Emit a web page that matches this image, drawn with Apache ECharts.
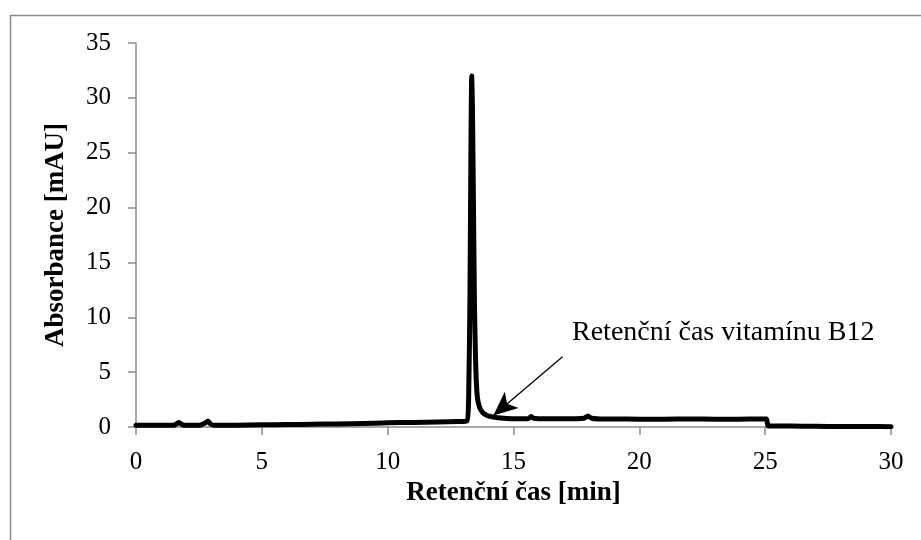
<!DOCTYPE html>
<html>
<head>
<meta charset="utf-8">
<script src="https://cdn.jsdelivr.net/npm/echarts@6/dist/echarts.min.js"></script>
<style>
  html, body { margin: 0; padding: 0; background: #fff; }
  #chart { width: 921px; height: 540px; }
</style>
</head>
<body>
<div id="chart"></div>
<script>
// retenční čas [min]
var times = [
  0, 0.8, 1.5, 1.62, 1.7, 1.78, 1.9, 2.5, 2.78, 2.86, 2.95, 3.1, 4, 5, 6, 7, 8, 9, 10,
  11, 12, 12.8, 13.15, 13.22, 13.27, 13.31, 13.34, 13.37, 13.41, 13.45, 13.5, 13.56,
  13.65, 13.78, 13.95, 14.2, 14.6, 15.2, 15.6, 15.7, 15.8, 16.3, 17, 17.8, 17.96,
  18.1, 18.6, 19.5, 20.5, 21.5, 22.5, 23.5, 24.4, 25.05, 25.12, 26, 27, 28, 29, 30
];
// absorbance [mAU]
var absorb = [
  0.15, 0.15, 0.15, 0.3, 0.4, 0.3, 0.15, 0.15, 0.4, 0.55, 0.3, 0.15, 0.17, 0.2, 0.22, 0.25, 0.28, 0.32, 0.38,
  0.42, 0.46, 0.5, 0.55, 3, 12, 26, 32, 29, 20, 11, 5.5, 2.8,
  1.8, 1.3, 1.05, 0.9, 0.8, 0.75, 0.78, 0.95, 0.8, 0.75, 0.75, 0.8, 1.0,
  0.8, 0.72, 0.72, 0.7, 0.72, 0.72, 0.7, 0.72, 0.72, 0.1, 0.08, 0.06, 0.05, 0.04, 0.03
];
var xTicks = [0, 5, 10, 15, 20, 25, 30];
var yTicks = [0, 5, 10, 15, 20, 25, 30, 35];
var noteText = 'Retenční čas vitamínu B12';
var arrowFrom = [16.95, 6.4];
var arrowTo = [14.2, 1.05];

var points = times.map(function (t, i) { return [t, absorb[i]]; });

var chart = echarts.init(document.getElementById('chart'));
var serif = '"Liberation Serif", "DejaVu Serif", serif';
var axisGray = '#8c8c8c';

var option = {
  animation: false,
  backgroundColor: '#fff',
  grid: { left: 136, right: 30, top: 43, bottom: 113, containLabel: false },
  xAxis: {
    type: 'value',
    min: xTicks[0],
    max: xTicks[xTicks.length - 1],
    interval: 5,
    name: 'Retenční čas [min]',
    nameLocation: 'middle',
    nameGap: 40,
    nameTextStyle: { fontFamily: serif, fontWeight: 'bold', fontSize: 27, color: '#000' },
    axisLine: { lineStyle: { color: axisGray, width: 1.5 } },
    axisTick: { show: true, length: 8, lineStyle: { color: axisGray, width: 1.5 } },
    axisLabel: { fontFamily: serif, fontSize: 25, color: '#000', margin: 23 },
    splitLine: { show: false }
  },
  yAxis: {
    type: 'value',
    min: yTicks[0],
    max: yTicks[yTicks.length - 1],
    interval: 5,
    name: 'Absorbance [mAU]',
    nameLocation: 'middle',
    nameGap: 66,
    nameTextStyle: { fontFamily: serif, fontWeight: 'bold', fontSize: 27, color: '#000' },
    axisLine: { show: true, lineStyle: { color: axisGray, width: 1.5 } },
    axisTick: { show: true, length: 8, lineStyle: { color: axisGray, width: 1.5 } },
    axisLabel: { fontFamily: serif, fontSize: 25, color: '#000', margin: 25 },
    splitLine: { show: false }
  },
  series: [
    {
      type: 'line',
      data: points,
      showSymbol: false,
      smooth: 0.2,
      lineStyle: { color: '#000', width: 5, cap: 'round', join: 'round' },
      z: 3,
      markLine: {
        silent: true,
        z: 10,
        symbol: ['none', 'arrow'],
        symbolSize: [16, 24],
        lineStyle: { color: '#000', width: 1.3, type: 'solid' },
        label: { show: false },
        data: [[{ coord: arrowFrom }, { coord: arrowTo }]]
      }
    }
  ],
  graphic: [
    {
      type: 'rect',
      shape: { x: 10.5, y: 15.5, width: 930, height: 540 },
      style: { fill: 'none', stroke: '#8c8c8c', lineWidth: 1.5 },
      silent: true
    },
    {
      type: 'text',
      left: 572,
      top: 319,
      style: { text: noteText, fontFamily: serif, fontSize: 28, fill: '#000' }
    }
  ]
};
chart.setOption(option);
</script>
</body>
</html>
